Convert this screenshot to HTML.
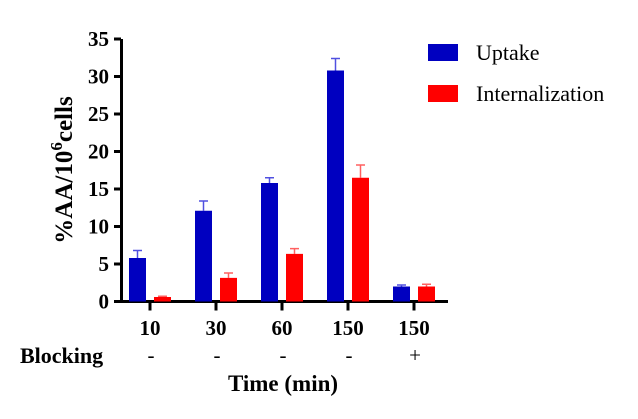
<!DOCTYPE html>
<html><head><meta charset="utf-8"><style>
body{margin:0;background:#fff}
svg{display:block}
text{font-family:"Liberation Serif","Times New Roman",serif;fill:#000}
</style></head><body>
<svg id="chart" width="638" height="419" viewBox="0 0 638 419" xmlns="http://www.w3.org/2000/svg">
<g id="axes"></g>
<g id="bars"></g>
<text transform="translate(72,170) rotate(-90)" text-anchor="middle" font-size="25" font-weight="bold">%AA/10<tspan font-size="17" dy="-10">6</tspan><tspan dy="10">cells</tspan></text>
<text x="20" y="363" font-size="22" font-weight="bold">Blocking</text>
<text x="283" y="391" text-anchor="middle" font-size="23" font-weight="bold">Time (min)</text>
<g>
<rect x="428" y="44" width="30" height="17" fill="#0000c0"/>
<text x="476" y="60" font-size="22">Uptake</text>
<rect x="428" y="85" width="30" height="17" fill="#ff0000"/>
<text x="476" y="101" font-size="22">Internalization</text>
</g>
</svg>
<script>
const categories=["10","30","60","150","150"];
const blocking=["-","-","-","-","+"];
const uptake=[5.8,12.1,15.8,30.8,2.0];
const uptakeErr=[1.0,1.3,0.7,1.6,0.2];
const intern=[0.6,3.15,6.35,16.5,2.0];
const internErr=[0.1,0.65,0.7,1.7,0.3];
const yTicks=[0,5,10,15,20,25,30,35];
const NS="http://www.w3.org/2000/svg";
const y0=301.5, pxPerUnit=7.5;
const y=v=>y0-v*pxPerUnit;
const xc=i=>150+i*66;
const axes=document.getElementById('axes'), bars=document.getElementById('bars');
function mk(tag,attrs,parent){const e=document.createElementNS(NS,tag);for(const k in attrs)e.setAttribute(k,attrs[k]);parent.appendChild(e);return e;}
let e=mk('line',{x1:121.5,y1:y(35),x2:121.5,y2:y0+1.5,stroke:'#000','stroke-width':3},axes);


e=mk('line',{x1:120,y1:y0,x2:448,y2:y0,stroke:'#000','stroke-width':3},axes);


yTicks.forEach(t=>{
  let l=mk('line',{x1:114,x2:121,y1:y(t),y2:y(t),stroke:'#000','stroke-width':3},axes);
  
  
  let tx=mk('text',{x:109,y:y(t)+7,'text-anchor':'end','font-size':21,'font-weight':'bold'},axes);
  tx.textContent=t;
  
  
});
categories.forEach((c,i)=>{
  let l=mk('line',{x1:xc(i),x2:xc(i),y1:y0,y2:y0+9,stroke:'#000','stroke-width':3},axes);
  
  
  let tx=mk('text',{x:xc(i),y:335,'text-anchor':'middle','font-size':21,'font-weight':'bold'},axes);
  tx.textContent=c;
  
  
  let b=mk('text',{x:xc(i)+1,y:362,'text-anchor':'middle','font-size':21},axes);
  b.textContent=blocking[i];
  
  
  [[uptake,uptakeErr,'#0000c0','#5050e0',-21,'uptake'],[intern,internErr,'#ff0000','#ff6060',4,'internalization']].forEach(s=>{
    const v=s[0][i], er=s[1][i], x=xc(i)+s[4], w=17, cx=x+w/2;
    let ln=mk('line',{x1:cx,x2:cx,y1:y(v),y2:y(v+er),stroke:s[3],'stroke-width':1.5},bars);
    
    
    let cp=mk('line',{x1:cx-4.5,x2:cx+4.5,y1:y(v+er),y2:y(v+er),stroke:s[3],'stroke-width':1.5},bars);
    
    
    let r=mk('rect',{x:x,y:y(v),width:w,height:y0-y(v),fill:s[2]},bars);
    
    
  });
});
</script>
</body></html>
